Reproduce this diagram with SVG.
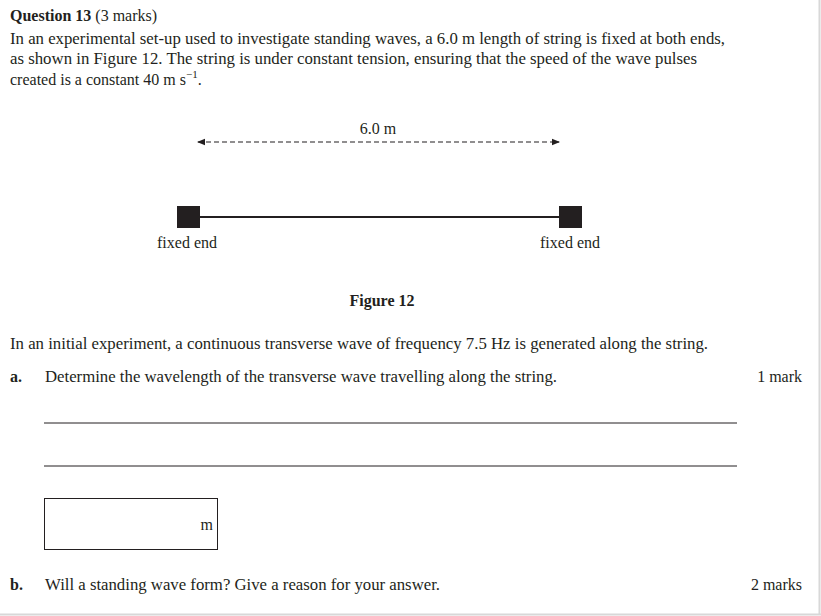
<svg xmlns="http://www.w3.org/2000/svg" width="821" height="616" viewBox="0 0 821 616">
<style>
text{font-family:"Liberation Serif","Times New Roman",serif;fill:#231f20;font-size:16px}
.b{font-weight:bold}
.sm{font-size:15.5px}
</style>
<defs>
<marker id="ah" markerWidth="8" markerHeight="8" refX="7" refY="4" orient="auto-start-reverse" markerUnits="userSpaceOnUse">
<path d="M0,0.8 L8,4 L0,7.2 Z" fill="#231f20"/>
</marker>
</defs>
<rect x="0" y="0" width="821" height="616" fill="#fff"/>
<line x1="819.5" y1="0" x2="819.5" y2="614" stroke="#d8d8d8" stroke-width="2"/>
<line x1="0" y1="614.5" x2="821" y2="614.5" stroke="#d8d8d8" stroke-width="2"/>

<g id="intro">
<text x="10" y="21"><tspan class="b">Question 13</tspan> (3 marks)</text>
<text x="10" y="44" textLength="715" lengthAdjust="spacingAndGlyphs">In an experimental set-up used to investigate standing waves, a 6.0 m length of string is fixed at both ends,</text>
<text x="10" y="64" textLength="687" lengthAdjust="spacingAndGlyphs">as shown in Figure 12. The string is under constant tension, ensuring that the speed of the wave pulses</text>
<text x="10" y="85">created is a constant 40 m s<tspan font-size="11" dy="-7">−1</tspan><tspan dy="7">.</tspan></text>
</g>

<g id="connectors">
<line x1="198" y1="142" x2="559" y2="142" stroke="#231f20" stroke-width="1.2" stroke-dasharray="5,3" marker-start="url(#ah)" marker-end="url(#ah)"/>
<line x1="200" y1="217" x2="559" y2="217" stroke="#231f20" stroke-width="2"/>
</g>

<g id="length-label">
<text x="378" y="134" text-anchor="middle">6.0 m</text>
</g>

<g id="left-end">
<rect x="177" y="206" width="23" height="22" fill="#231f20"/>
<text x="187" y="248" text-anchor="middle">fixed end</text>
</g>
<g id="right-end">
<rect x="559" y="206" width="23" height="22" fill="#231f20"/>
<text x="570" y="248" text-anchor="middle">fixed end</text>
</g>

<g id="caption">
<text x="382" y="306" text-anchor="middle" class="b">Figure 12</text>
</g>

<g id="part-a">
<text x="10" y="349" textLength="698" lengthAdjust="spacingAndGlyphs">In an initial experiment, a continuous transverse wave of frequency 7.5 Hz is generated along the string.</text>
<text x="10" y="382" class="b">a.</text>
<text x="45" y="382" textLength="512" lengthAdjust="spacingAndGlyphs">Determine the wavelength of the transverse wave travelling along the string.</text>
<text x="802" y="382" text-anchor="end">1 mark</text>
<line x1="44" y1="423" x2="737" y2="423" stroke="#231f20" stroke-width="1"/>
<line x1="44" y1="466" x2="737" y2="466" stroke="#231f20" stroke-width="1"/>
<rect x="44.5" y="498.5" width="173" height="51" fill="none" stroke="#231f20" stroke-width="1"/>
<text x="213" y="530" text-anchor="end">m</text>
</g>

<g id="part-b">
<text x="10" y="590" class="b">b.</text>
<text x="45" y="590" textLength="395" lengthAdjust="spacingAndGlyphs">Will a standing wave form? Give a reason for your answer.</text>
<text x="802" y="590" text-anchor="end">2 marks</text>
</g>
</svg>
